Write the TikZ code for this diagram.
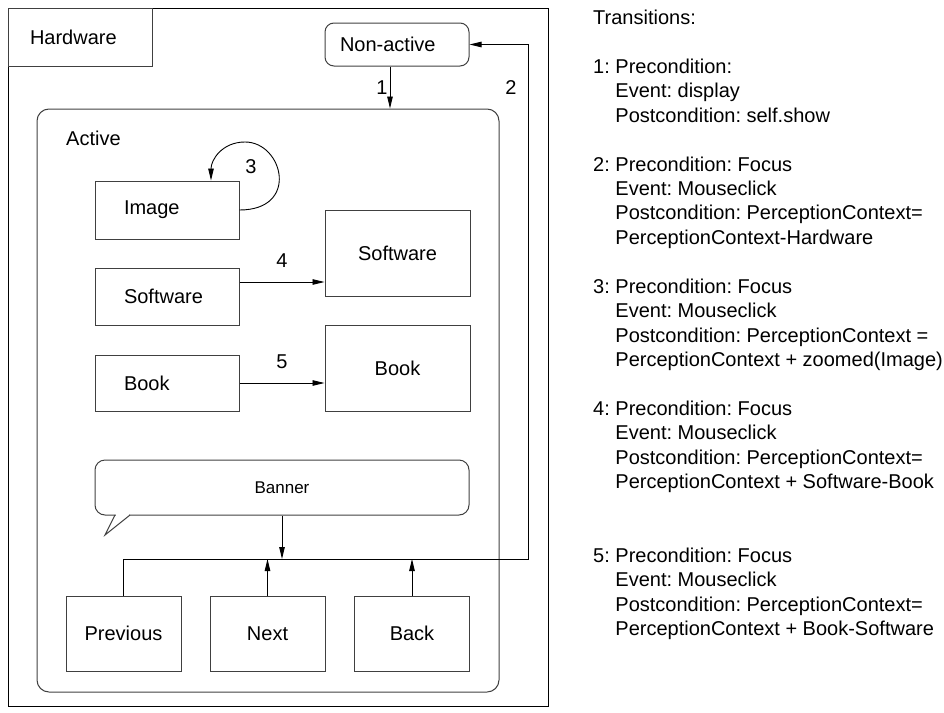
\documentclass[tikz,border=0pt]{standalone}
\usepackage{fontspec}
\setmainfont{Liberation Sans}
\usetikzlibrary{arrows.meta}
\newcommand\ind{\hphantom{1:\ }}
\frenchspacing
\begin{document}
\begin{tikzpicture}[x=1pt,y=-1pt,
  txt/.style={font=\fontsize{20}{24}\selectfont},
  box/.style={draw=black!75, line width=1pt, inner sep=0pt, txt},
  lbox/.style={box, text width=86pt, inner xsep=29pt, align=left},
  rbox/.style={box, minimum width=145pt, minimum height=86pt},
  bbox/.style={box, minimum width=115pt, minimum height=75pt},
  numl/.style={txt, inner sep=0pt},
  arr/.style={draw=black, line width=0.9pt, -{Triangle[length=12pt,width=5.5pt]}},
  conn/.style={draw=black, line width=0.9pt}]
\useasboundingbox (0,0) rectangle (944,712);

% outer frame and its label
\node[draw=black, line width=1pt, minimum width=540pt, minimum height=698pt, inner sep=0pt] (hwframe) at (278,357) {};
\node[box, minimum height=58pt, text width=100pt, inner xsep=22pt, align=left] (hwlabel) at (80,37) {Hardware};

% non-active state
\node[box, rounded corners=9pt, minimum height=43pt, text width=114pt, inner xsep=15pt, align=left] (nonactive) at (397,44.5) {Non-active};

% active state
\node[box, rounded corners=12pt, minimum width=462pt, minimum height=583pt] (active) at (268,400.5) {};
\node[txt, anchor=west, inner sep=0pt] (activelabel) at (66,138) {Active};

% inner boxes
\node[lbox, minimum height=58pt] (image) at (167,210) {Image};
\node[lbox, minimum height=57pt] (swl) at (167,296.5) {Software};
\node[lbox, minimum height=56pt] (bookl) at (167,383) {Book};
\node[rbox] (swr) at (397.5,253) {Software};
\node[rbox] (bookr) at (397.5,368) {Book};

% banner callout
\node[box, rounded corners=10pt, minimum width=374pt, minimum height=55pt, font=\fontsize{17}{20}\selectfont] (banner) at (282,487.5) {Banner};
\fill[white] (116,513.6) rectangle (129,516.4);
\draw[draw=black!75, line width=1pt, line join=miter] (115,515) -- (105,535) -- (130,515);

% bottom buttons
\node[bbox] (prev) at (123.5,633.5) {Previous};
\node[bbox] (next) at (267.5,633.5) {Next};
\node[bbox] (back) at (412,633.5) {Back};

% transition 1
\draw[arr] ([xshift=-7pt]nonactive.south) -- ([xshift=-7pt]nonactive.south |- active.north)
  node[midway, left=2pt, numl] (l1) {1};

% transition 2 and the joining line
\coordinate (j2) at (528,559);
\draw[arr] (prev.north) |- (j2) |- (nonactive.east);
\node[numl] (l2) at (511,88) {2};
\draw[arr] (banner.south) -- (banner.south |- j2);
\draw[arr] (next.north) -- (next.north |- j2);
\draw[arr] (back.north) -- (back.north |- j2);

% transition 3 (self loop)
\draw[arr] (image.east) .. controls (300,210) and (283,142) .. (245,142)
  .. controls (222,142) and (211,160) .. (211,0 |- image.north);
\node[numl] (l3) at (251,167) {3};

% transition 4
\draw[arr] ([yshift=14.5pt]swl.east) coordinate (a4) -- (a4 -| swr.west)
  node[midway, above=14pt, numl] (l4) {4};

% transition 5
\draw[arr] (bookl.east) -- (bookl.east -| bookr.west)
  node[midway, above=14pt, numl] (l5) {5};

% transitions text
\node[anchor=north west, inner sep=0pt, align=left, font=\fontsize{20}{24.45}\selectfont\frenchspacing] (trans) at (593,9.6) {%
Transitions:\\
\mbox{}\\
1: Precondition:\\
\ind Event: display\\
\ind Postcondition: self.show\\
\mbox{}\\
2: Precondition: Focus\\
\ind Event: Mouseclick\\
\ind Postcondition: PerceptionContext=\\
\ind PerceptionContext-Hardware\\
\mbox{}\\
3: Precondition: Focus\\
\ind Event: Mouseclick\\
\ind Postcondition: PerceptionContext =\\
\ind PerceptionContext + zoomed(Image)\\
\mbox{}\\
4: Precondition: Focus\\
\ind Event: Mouseclick\\
\ind Postcondition: PerceptionContext=\\
\ind PerceptionContext + Software-Book\\
\mbox{}\\
\mbox{}\\
5: Precondition: Focus\\
\ind Event: Mouseclick\\
\ind Postcondition: PerceptionContext=\\
\ind PerceptionContext + Book-Software};
\end{tikzpicture}
\end{document}
